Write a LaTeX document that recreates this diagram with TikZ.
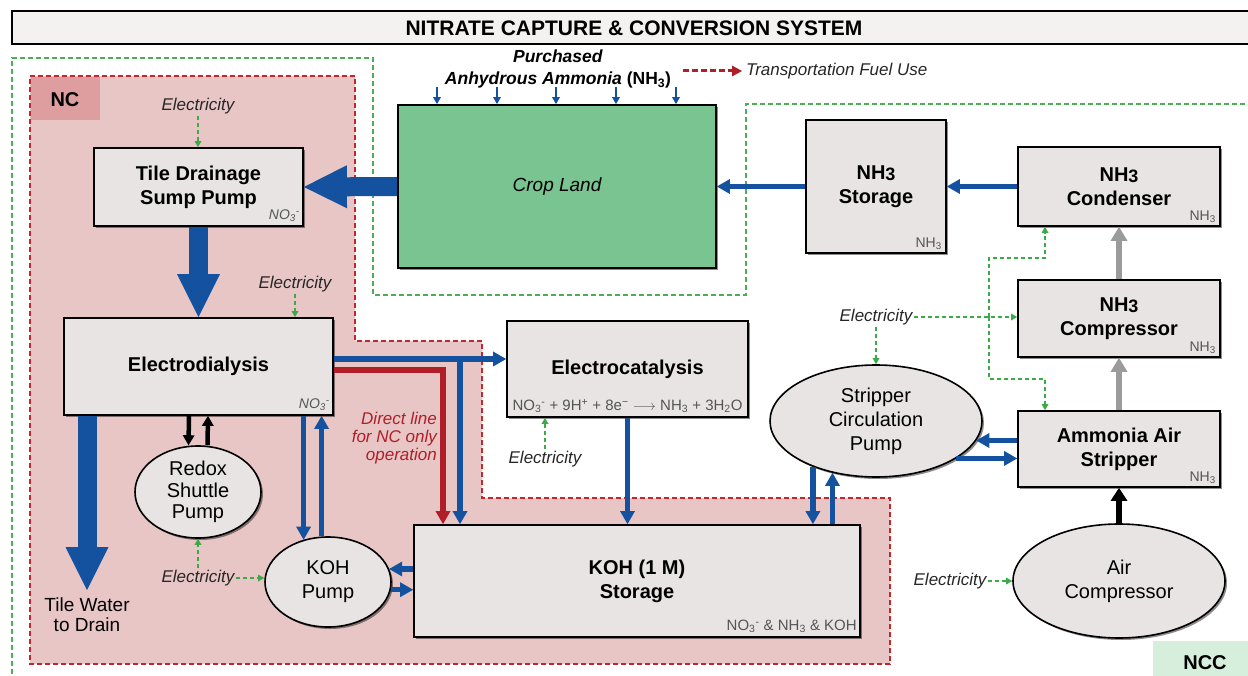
\documentclass[tikz,border=0pt]{standalone}
\usepackage{fontspec}
\setmainfont{Liberation Sans}
\usetikzlibrary{arrows.meta,shadows,shapes.geometric}

\definecolor{flowblue}{HTML}{1452A0}
\definecolor{dirred}{HTML}{B01F27}
\definecolor{ncred}{HTML}{C1272D}
\definecolor{ncfill}{HTML}{E8C6C6}
\definecolor{nctag}{HTML}{DE9EA0}
\definecolor{nccgreen}{HTML}{4CAF57}
\definecolor{ncctag}{HTML}{D6EEDC}
\definecolor{cropgreen}{HTML}{7AC491}
\definecolor{unitfill}{HTML}{E8E4E4}
\definecolor{titlefill}{HTML}{F3F2F1}
\definecolor{ventgrey}{HTML}{9B9B9B}
\definecolor{subgrey}{HTML}{555555}
\definecolor{elecgreen}{HTML}{3DAA4A}

\newcommand\setfs[2]{\fontsize{#1}{#2}\selectfont}
% nitrate ion: subscript followed by its charge
\newcommand\nitrate{NO\textsubscript{3}\textsuperscript{-}}
\newcommand\nhtitle{NH\raisebox{-1.5pt}{\setfs{18}{20}3}}

\begin{document}
\begin{tikzpicture}[x=1pt,y=-1pt,
  unit/.style={draw=black, line width=1.8pt, fill=unitfill, inner sep=0pt, align=center,
    font=\setfs{20}{24}\bfseries,
    drop shadow={shadow xshift=2pt, shadow yshift=-2pt, opacity=0.45, fill=black}},
  pump/.style={ellipse, draw=black, line width=1.6pt, fill=unitfill, inner sep=0pt,
    drop shadow={shadow xshift=2pt, shadow yshift=-2pt, opacity=0.45, fill=black}},
  pumptext/.style={align=center, font=\setfs{20}{24}, inner sep=0pt},
  sublabel/.style={font=\setfs{14}{16}, text=subgrey, inner sep=0pt, anchor=south east},
  elec/.style={font=\setfs{17}{20}\itshape, text=black!85, inner sep=1.5pt},
  power/.style={draw=elecgreen, line width=1.8pt, dash pattern=on 4pt off 3pt,
    -{Triangle[width=7pt,length=6pt,line width=0pt]}},
  flow/.style={draw=flowblue, line width=5.5pt, -{Triangle[width=15pt,length=13pt,line width=0pt]}},
  fat/.style={draw=flowblue, line width=19pt, -{Triangle[width=43pt,length=43pt,line width=0pt]}},
  direct/.style={draw=dirred, line width=6pt, -{Triangle[width=15pt,length=13pt,line width=0pt]}},
  shuttle/.style={draw=black, line width=4.5pt, -{Triangle[width=12pt,length=10pt,line width=0pt]}},
  vent/.style={draw=ventgrey, line width=6.5pt, -{Triangle[width=17pt,length=14pt,line width=0pt]}},
  airflow/.style={draw=black, line width=6pt, -{Triangle[width=17pt,length=13pt,line width=0pt]}},
  supply/.style={draw=flowblue, line width=2pt, -{Triangle[width=8pt,length=7pt,line width=0pt]}},
  fuel/.style={draw=dirred, line width=3pt, dash pattern=on 6pt off 3pt,
    -{Triangle[width=11pt,length=10pt,line width=0pt]}},
  zone/.style={line width=2pt, dash pattern=on 5pt off 3pt},
  tagtext/.style={font=\setfs{20}{24}\bfseries, inner sep=0pt},
  note/.style={font=\setfs{17}{18}\itshape, text=dirred, inner sep=0pt, align=right}
]
\useasboundingbox (0,0) rectangle (1248,676);
\clip (0,0) rectangle (1248,676);

% ---- nitrate capture zone (NC)
\fill[ncfill] (30,76) -- (355,76) -- (355,341) -- (482,341) -- (482,498) -- (890,498)
  -- (890,664) -- (30,664) -- cycle;
\draw[zone, draw=ncred] (30,76) -- (355,76) -- (355,341) -- (482,341) -- (482,498)
  -- (890,498) -- (890,664) -- (30,664) -- cycle;
\fill[nctag] (31,77) rectangle (100,120);
\node[tagtext] (nclabel) at (65,100) {NC};

% ---- nitrate capture & conversion zone (NCC)
\draw[zone, draw=nccgreen] (12,690) -- (12,58) -- (373,58) -- (373,295) -- (746,295)
  -- (746,104) -- (1262,104);
\fill[ncctag] (1153,641) rectangle (1262,690);
\node[tagtext] (ncclabel) at (1205,663) {NCC};

% ---- title bar
\draw[fill=titlefill, line width=2.5pt] (12,11) rectangle (1262,44);
\node[font=\setfs{21}{24}\bfseries, inner sep=0pt] (title) at (634,28)
  {NITRATE CAPTURE \& CONVERSION SYSTEM};

% ---- process units
\node[unit, minimum width=318pt, minimum height=163pt, fill=cropgreen,
  font=\setfs{19}{22}\itshape] (crop) at (557,186.5) {Crop Land};
\node[unit, minimum width=209pt, minimum height=78pt] (tile) at (198.5,187)
  {Tile Drainage\\Sump Pump};
\node[unit, minimum width=269pt, minimum height=97pt] (ed) at (198.5,366.5) {Electrodialysis};
\node[unit, minimum width=241pt, minimum height=96pt] (ec) at (627.5,369) {Electrocatalysis};
\node[unit, minimum width=446pt, minimum height=112pt] (ks) at (637,581) {KOH (1 M)\\Storage};
\node[unit, minimum width=140pt, minimum height=133pt] (nst) at (876,186.5) {\nhtitle\\Storage};
\node[unit, minimum width=202pt, minimum height=79pt] (cond) at (1119,186.5) {\nhtitle\\Condenser};
\node[unit, minimum width=202pt, minimum height=77pt] (comp) at (1119,318.5) {\nhtitle\\Compressor};
\node[unit, minimum width=202pt, minimum height=76pt] (strip) at (1119,449) {Ammonia Air\\Stripper};

% ---- pumps and compressor
\node[pump, minimum width=126pt, minimum height=92pt] (redox) at (198,492) {};
\node[pumptext, font=\setfs{20}{21.5}] (redoxtext) at (redox) {Redox\\Shuttle\\Pump};
\node[pump, minimum width=126pt, minimum height=90pt] (kp) at (328,582) {};
\node[pumptext] (kptext) at (kp) {KOH\\Pump};
\node[pump, minimum width=212pt, minimum height=112pt] (sp) at (876,421) {};
\node[pumptext] (sptext) at (sp) {Stripper\\Circulation\\Pump};
\node[pump, minimum width=212pt, minimum height=114pt] (ac) at (1119,581) {};
\node[pumptext] (actext) at (ac) {Air\\Compressor};

% ---- species labels
\node[sublabel, font=\setfs{14}{16}\itshape] (tilesub) at ([xshift=-4pt,yshift=5pt]tile.south east)
  {\nitrate};
\node[sublabel, font=\setfs{14}{16}\itshape] (edsub) at ([xshift=-4pt,yshift=5pt]ed.south east)
  {\nitrate};
\node[sublabel] (nstsub) at ([xshift=-5pt,yshift=4pt]nst.south east) {NH\textsubscript{3}};
\node[sublabel] (condsub) at ([xshift=-5pt,yshift=4pt]cond.south east) {NH\textsubscript{3}};
\node[sublabel] (compsub) at ([xshift=-5pt,yshift=4pt]comp.south east) {NH\textsubscript{3}};
\node[sublabel] (stripsub) at ([xshift=-5pt,yshift=4pt]strip.south east) {NH\textsubscript{3}};
\node[sublabel, font=\setfs{15}{16}] (kssub) at ([xshift=-4pt,yshift=5pt]ks.south east)
  {\nitrate{} \& NH\textsubscript{3} \& KOH};
\node[font=\setfs{15}{18}, text=subgrey, inner sep=0pt, anchor=south] (eqn)
  at ([yshift=5pt]ec.south)
  {\nitrate{} + 9H\textsuperscript{+} + 8e\textsuperscript{−} $\longrightarrow$ NH\textsubscript{3} + 3H\textsubscript{2}O};

% ---- purchased ammonia and fuel use
\node[align=center, font=\setfs{17.5}{22}\bfseries, inner sep=0pt] (purch) at (558,69)
  {\textit{Purchased}\\\textit{Anhydrous Ammonia} (NH\textsubscript{3})};
\foreach \x [count=\i] in {437,497,556,616,676} {
  \coordinate (na\i) at (\x,87);
  \draw[supply] (na\i) -- (na\i |- crop.north);
}
\node[font=\setfs{17}{20}\itshape, text=black!85, inner sep=0pt, anchor=west] (tfu)
  at (746,71) {Transportation Fuel Use};
\coordinate (fuelstart) at (683,71);
\draw[fuel] (fuelstart) -- ([xshift=-4pt]tfu.west);

% ---- main water path
\draw[fat] (crop.west) -- (tile.east);
\draw[fat] (tile.south) -- (ed.north);
\coordinate (draintip) at (87,590);
\draw[fat] (ed.south -| draintip) -- (draintip);
\node[align=center, font=\setfs{19}{20}, inner sep=0pt] (drain) at (87,615) {Tile Water\\to Drain};

% ---- redox shuttle loop
\draw[shuttle] ([xshift=-9.5pt]ed.south) -- ([xshift=-9.5pt]redox.north);
\draw[shuttle] ([xshift=9.5pt]redox.north) -- ([xshift=9.5pt]ed.south);

% ---- KOH pump loop
\draw[flow] (ed.south -| kp.120) -- (kp.120);
\draw[flow] (kp.98) -- (kp.98 |- ed.south);
\draw[flow] (ks.west |- kp.12) -- (kp.12);
\draw[flow] (kp.-7) -- (kp.-7 -| ks.west);

% ---- electrodialysis outlets
\coordinate (jr) at (443,370);
\draw[direct] (ed.east |- jr) -- (jr) -- (jr |- ks.north);
\coordinate (jb) at (460,359);
\draw[flow] (ed.east |- jb) -- (ec.west |- jb);
\draw[flow] (jb) -- (jb |- ks.north);
\node[note, anchor=east] (directnote) at (437,438) {Direct line\\for NC only\\operation};
\draw[flow] (ec.south) -- (ec.south |- ks.north);

% ---- stripping loop
\draw[flow] (sp.216) -- (sp.216 |- ks.north);
\draw[flow] (sp.230 |- ks.north) -- (sp.230);
\draw[flow] (strip.west |- sp.-11) -- (sp.-11);
\draw[flow] (sp.-25) -- (sp.-25 -| strip.west);
\draw[airflow] (ac.north) -- (strip.south);
\draw[vent] (strip.north) -- (comp.south);
\draw[vent] (comp.north) -- (cond.south);
\draw[flow] (cond.west) -- (nst.east);
\draw[flow] (nst.west) -- (crop.east);

% ---- electricity supply
\node[elec] (e1) at (198,106) {Electricity};
\draw[power] (e1.south) -- (e1.south |- tile.north);
\node[elec] (e2) at (295,284) {Electricity};
\draw[power] (e2.south) -- (e2.south |- ed.north);
\node[elec] (e3) at (198,578) {Electricity};
\draw[power] (e3.north) -- (e3.north |- redox.south);
\draw[power] (e3.east) -- (e3.east -| kp.west);
\node[elec] (e4) at (545,459) {Electricity};
\draw[power] (e4.north) -- (e4.north |- ec.south);
\node[elec] (e5) at (876,317) {Electricity};
\draw[power] (e5.south) -- (sp.north);
\draw[power] (e5.east) -- (e5.east -| comp.west);
\coordinate (eb) at (989,317);
\coordinate (eup) at (989,258);
\coordinate (edown) at (989,379);
\draw[power] (eb) -- (eup) -| ([xshift=-74pt]cond.south);
\draw[power] (eb) -- (edown) -| ([xshift=-74pt]strip.north);
\node[elec] (e6) at (950,581) {Electricity};
\draw[power] (e6.east) -- (ac.west);
\end{tikzpicture}
\end{document}
